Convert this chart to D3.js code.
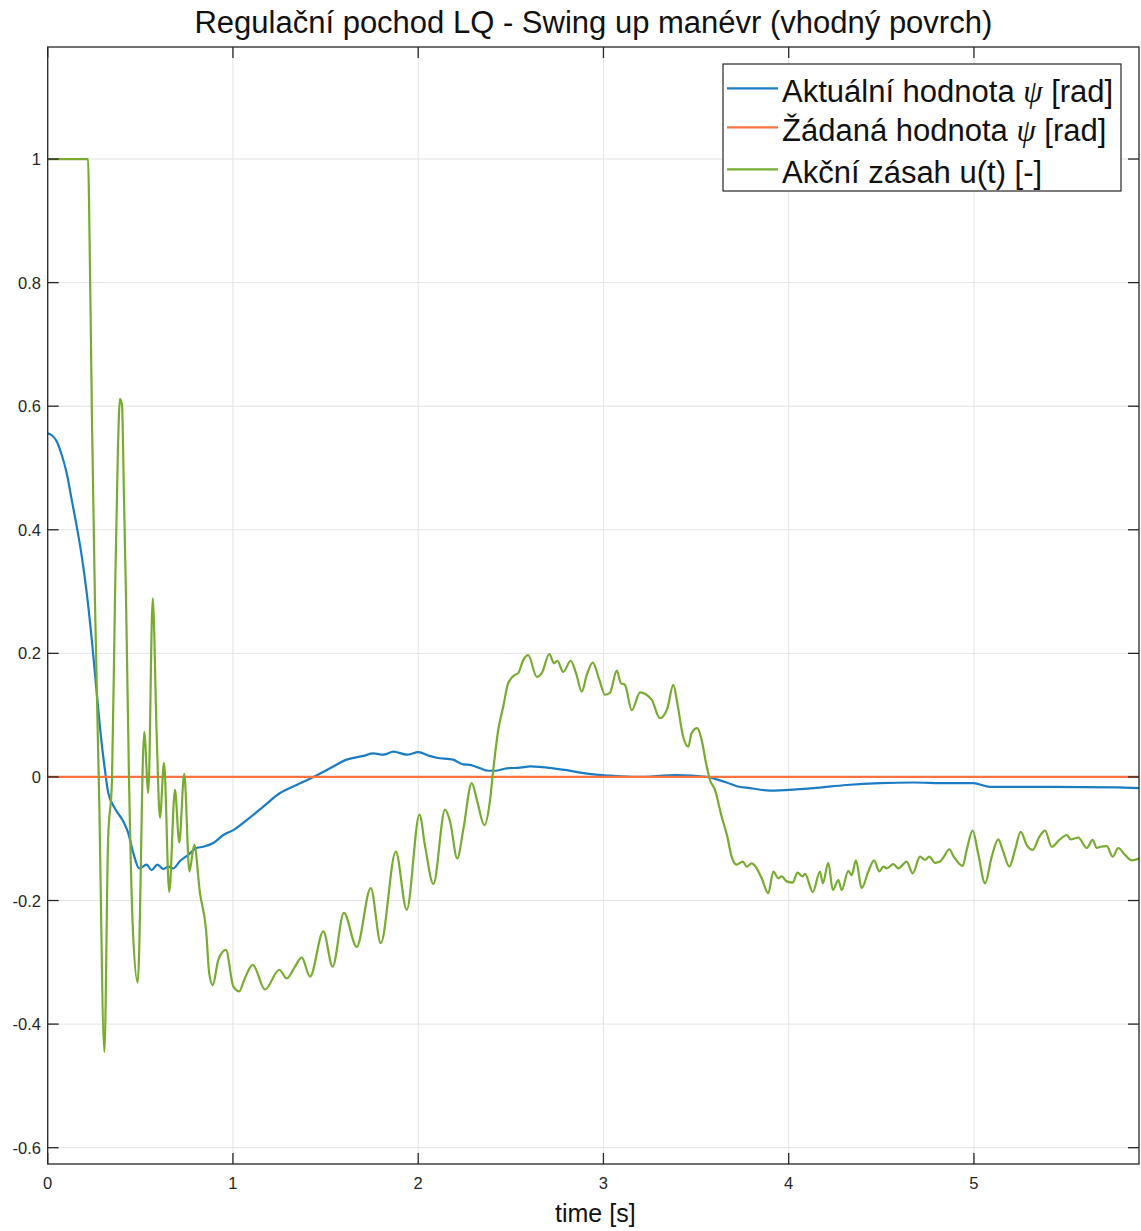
<!DOCTYPE html>
<html>
<head>
<meta charset="utf-8">
<script src="https://cdn.jsdelivr.net/npm/d3@7"></script>
<style>
  body { margin: 0; background: #fff; }
  svg { display: block; }
</style>
</head>
<body>
<svg id="chart" width="1141" height="1231"></svg>
<script>
// ---- labels and ticks ----
const titleText = "Regulační pochod LQ - Swing up manévr (vhodný povrch)";
const xLabelText = "time [s]";
const xTicks = [0, 1, 2, 3, 4, 5];
const yTicks = [-0.6, -0.4, -0.2, 0, 0.2, 0.4, 0.6, 0.8, 1];
const xDomain = [0, 5.891];
const yDomain = [-0.6264, 1.1813];

// ---- measured angle psi [rad] ----
const psiTime = [0, 0.022, 0.049, 0.076, 0.103, 0.130, 0.157, 0.184, 0.211, 0.238,
  0.255, 0.282, 0.309, 0.327, 0.363, 0.408, 0.435, 0.462, 0.494, 0.534,
  0.561, 0.592, 0.624, 0.651, 0.678, 0.714, 0.759, 0.804, 0.840, 0.894,
  0.948, 1.002, 1.074, 1.164, 1.254, 1.344, 1.434, 1.524, 1.614, 1.704,
  1.758, 1.812, 1.866, 1.938, 2.001, 2.060, 2.100, 2.189, 2.235, 2.289,
  2.334, 2.378, 2.415, 2.478, 2.550, 2.604, 2.729, 2.802, 2.874, 2.946,
  3.036, 3.180, 3.395, 3.557, 3.611, 3.665, 3.719, 3.791, 3.899, 4.043,
  4.133, 4.313, 4.493, 4.673, 4.853, 4.997, 5.087, 5.411, 5.771, 5.891];
const psiValue = [0.556, 0.553, 0.543, 0.521, 0.491, 0.448, 0.405, 0.357, 0.297, 0.222,
  0.168, 0.081, 0.011, -0.026, -0.051, -0.072, -0.091, -0.123, -0.148, -0.142,
  -0.151, -0.142, -0.149, -0.145, -0.148, -0.136, -0.126, -0.115, -0.113, -0.107,
  -0.094, -0.086, -0.070, -0.048, -0.026, -0.013, 0.000, 0.014, 0.028, 0.034,
  0.038, 0.036, 0.041, 0.036, 0.040, 0.034, 0.031, 0.028, 0.021, 0.019,
  0.014, 0.010, 0.010, 0.014, 0.015, 0.017, 0.014, 0.011, 0.007, 0.004,
  0.002, 0.000, 0.003, 0.000, -0.004, -0.009, -0.015, -0.018, -0.022, -0.020,
  -0.018, -0.013, -0.010, -0.009, -0.010, -0.010, -0.016, -0.016, -0.017, -0.018];

// ---- reference angle psi [rad] ----
const refTime = [0, 5.891];
const refValue = [0, 0];

// ---- control action u(t) [-] ----
const uTime = [0, 0.218, 0.223, 0.239, 0.255, 0.277, 0.306, 0.326, 0.347, 0.363,
  0.379, 0.390, 0.401, 0.412, 0.423, 0.439, 0.460, 0.486, 0.521, 0.543,
  0.567, 0.588, 0.606, 0.628, 0.656, 0.687, 0.710, 0.737, 0.765, 0.791,
  0.822, 0.855, 0.872, 0.891, 0.921, 0.962, 1.002, 1.034, 1.060, 1.107,
  1.173, 1.250, 1.290, 1.335, 1.371, 1.416, 1.488, 1.538, 1.599, 1.668,
  1.744, 1.798, 1.879, 1.938, 2.007, 2.037, 2.082, 2.145, 2.172, 2.211,
  2.243, 2.289, 2.319, 2.357, 2.388, 2.405, 2.432, 2.459, 2.486, 2.522,
  2.540, 2.567, 2.594, 2.640, 2.667, 2.708, 2.733, 2.751, 2.783, 2.823,
  2.852, 2.883, 2.910, 2.942, 2.978, 3.008, 3.035, 3.072, 3.094, 3.116,
  3.153, 3.198, 3.260, 3.305, 3.345, 3.377, 3.399, 3.428, 3.458, 3.476,
  3.507, 3.530, 3.554, 3.575, 3.602, 3.638, 3.669, 3.692, 3.719, 3.752,
  3.773, 3.800, 3.823, 3.854, 3.890, 3.917, 3.944, 3.962, 3.989, 4.022,
  4.047, 4.075, 4.088, 4.130, 4.169, 4.184, 4.214, 4.238, 4.268, 4.286,
  4.322, 4.340, 4.363, 4.394, 4.430, 4.461, 4.489, 4.511, 4.529, 4.565,
  4.592, 4.637, 4.669, 4.709, 4.736, 4.759, 4.790, 4.817, 4.838, 4.867,
  4.889, 4.939, 4.961, 4.993, 5.024, 5.060, 5.096, 5.131, 5.158, 5.191,
  5.222, 5.252, 5.288, 5.317, 5.353, 5.384, 5.420, 5.461, 5.501, 5.522,
  5.563, 5.609, 5.641, 5.663, 5.684, 5.717, 5.749, 5.779, 5.815, 5.852, 5.891];
const uValue = [1.000, 1.000, 0.934, 0.578, 0.286, -0.021, -0.445, -0.102, -0.005, 0.286,
  0.529, 0.612, 0.602, 0.448, 0.286, -0.005, -0.248, -0.333, 0.073, -0.026,
  0.289, 0.071, -0.066, 0.023, -0.186, -0.021, -0.106, 0.005, -0.153, -0.110,
  -0.188, -0.248, -0.318, -0.337, -0.296, -0.280, -0.339, -0.347, -0.329, -0.304,
  -0.344, -0.312, -0.326, -0.307, -0.292, -0.323, -0.250, -0.307, -0.220, -0.275,
  -0.180, -0.269, -0.121, -0.215, -0.061, -0.112, -0.173, -0.053, -0.072, -0.132,
  -0.086, -0.010, -0.040, -0.078, -0.037, 0.011, 0.076, 0.114, 0.152, 0.165,
  0.168, 0.189, 0.197, 0.162, 0.168, 0.199, 0.184, 0.188, 0.170, 0.188,
  0.168, 0.138, 0.165, 0.185, 0.157, 0.133, 0.136, 0.172, 0.152, 0.149,
  0.108, 0.137, 0.125, 0.095, 0.111, 0.149, 0.119, 0.068, 0.049, 0.071,
  0.079, 0.060, 0.022, -0.005, -0.021, -0.064, -0.097, -0.129, -0.142, -0.137,
  -0.145, -0.140, -0.146, -0.164, -0.188, -0.153, -0.164, -0.161, -0.169, -0.171,
  -0.155, -0.161, -0.157, -0.186, -0.153, -0.172, -0.139, -0.183, -0.167, -0.183,
  -0.152, -0.159, -0.135, -0.180, -0.153, -0.135, -0.153, -0.145, -0.148, -0.141,
  -0.148, -0.137, -0.156, -0.129, -0.134, -0.129, -0.139, -0.137, -0.129, -0.117,
  -0.128, -0.144, -0.118, -0.087, -0.126, -0.172, -0.129, -0.101, -0.121, -0.145,
  -0.118, -0.089, -0.112, -0.118, -0.097, -0.087, -0.113, -0.102, -0.094, -0.101,
  -0.098, -0.115, -0.102, -0.115, -0.113, -0.112, -0.129, -0.115, -0.126, -0.135, -0.132];

const seriesNames = ["Aktuální hodnota ", "Žádaná hodnota ", "Akční zásah u(t) [-]"];
const seriesColors = ["#1a7cc4", "#f9723f", "#77ac30"];

// ---- layout ----
const W = 1141, H = 1231;
const plot = { left: 47.7, right: 1139, top: 47, bottom: 1164 };
const font = "'Liberation Sans', Arial, Helvetica, sans-serif";
const axisColor = "#262626";

const svg = d3.select("#chart");
const x = d3.scaleLinear().domain(xDomain).range([plot.left, plot.right]);
const y = d3.scaleLinear().domain(yDomain).range([plot.bottom, plot.top]);

svg.append("rect").attr("width", W).attr("height", H).attr("fill", "#fff");

// grid
const grid = svg.append("g").attr("stroke", "#e3e3e3").attr("stroke-width", 1);
grid.selectAll("line.gx").data(xTicks).join("line")
  .attr("x1", d => x(d)).attr("x2", d => x(d))
  .attr("y1", plot.top).attr("y2", plot.bottom);
grid.selectAll("line.gy").data(yTicks).join("line")
  .attr("x1", plot.left).attr("x2", plot.right)
  .attr("y1", d => y(d)).attr("y2", d => y(d));

// clip
svg.append("clipPath").attr("id", "plotClip").append("rect")
  .attr("x", plot.left).attr("y", plot.top)
  .attr("width", plot.right - plot.left).attr("height", plot.bottom - plot.top);

const zip = (ts, vs) => ts.map((t, i) => [t, vs[i]]);
const line = d3.line().x(d => x(d[0])).y(d => y(d[1])).curve(d3.curveMonotoneX);

const lines = svg.append("g").attr("clip-path", "url(#plotClip)")
  .attr("fill", "none").attr("stroke-width", 2.2)
  .attr("stroke-linejoin", "round").attr("stroke-linecap", "round");
lines.append("path").attr("d", line(zip(psiTime, psiValue))).attr("stroke", seriesColors[0]);
lines.append("path").attr("d", line(zip(refTime, refValue))).attr("stroke", seriesColors[1]);
lines.append("path").attr("d", line(zip(uTime, uValue))).attr("stroke", seriesColors[2]);

// axes box with inward ticks on all sides
const axes = svg.append("g").attr("stroke", axisColor).attr("stroke-width", 1.3).attr("fill", "none");
axes.append("rect").attr("x", plot.left).attr("y", plot.top)
  .attr("width", plot.right - plot.left).attr("height", plot.bottom - plot.top);
const tl = 11;
xTicks.forEach(t => {
  axes.append("line").attr("x1", x(t)).attr("x2", x(t)).attr("y1", plot.bottom).attr("y2", plot.bottom - tl);
  axes.append("line").attr("x1", x(t)).attr("x2", x(t)).attr("y1", plot.top).attr("y2", plot.top + tl);
});
yTicks.forEach(v => {
  axes.append("line").attr("x1", plot.left).attr("x2", plot.left + tl).attr("y1", y(v)).attr("y2", y(v));
  axes.append("line").attr("x1", plot.right).attr("x2", plot.right - tl).attr("y1", y(v)).attr("y2", y(v));
});

const fmt = v => String(+v.toFixed(1));

// tick labels
svg.append("g").selectAll("text").data(xTicks).join("text")
  .attr("x", d => x(d)).attr("y", 1189)
  .attr("text-anchor", "middle")
  .attr("font-family", font).attr("font-size", 16.5).attr("fill", axisColor)
  .text(fmt);
svg.append("g").selectAll("text").data(yTicks).join("text")
  .attr("x", 41).attr("y", d => y(d) + 6)
  .attr("text-anchor", "end")
  .attr("font-family", font).attr("font-size", 16.5).attr("fill", axisColor)
  .text(fmt);

// title and axis label
svg.append("text").attr("x", (plot.left + plot.right) / 2).attr("y", 33)
  .attr("text-anchor", "middle").attr("font-family", font).attr("font-size", 31)
  .attr("fill", "#111").text(titleText);
svg.append("text").attr("x", (plot.left + plot.right) / 2 + 2).attr("y", 1222)
  .attr("text-anchor", "middle").attr("font-family", font).attr("font-size", 25)
  .attr("fill", "#111").text(xLabelText);

// legend
const leg = svg.append("g");
leg.append("rect").attr("x", 723).attr("y", 64).attr("width", 398).attr("height", 127)
  .attr("fill", "#fff").attr("stroke", axisColor).attr("stroke-width", 1.2);
const rowY = [88.3, 127.3, 169.3];
seriesNames.forEach((name, i) => {
  leg.append("line").attr("x1", 727).attr("x2", 778)
    .attr("y1", rowY[i]).attr("y2", rowY[i])
    .attr("stroke", seriesColors[i]).attr("stroke-width", 2.2);
  const t = leg.append("text").attr("x", 782).attr("y", rowY[i] + 14)
    .attr("font-family", font).attr("font-size", 31).attr("fill", "#111");
  t.append("tspan").text(name);
  if (i < 2) {
    t.append("tspan").attr("font-family", "'Liberation Serif', 'DejaVu Serif', serif")
      .attr("font-style", "italic").text("ψ");
    t.append("tspan").text(" [rad]");
  }
});
</script>
</body>
</html>
